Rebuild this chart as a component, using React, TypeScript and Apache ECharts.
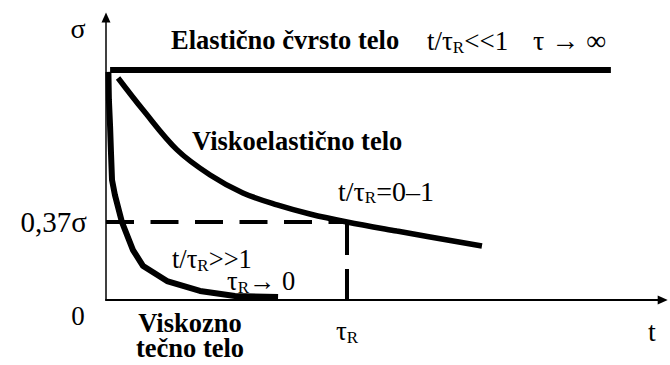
import React, { useEffect, useRef } from "react";
import * as echarts from "echarts";

// Time axis: t / τR ; stress axis: σ / σ0
const xMax = 2.31;
const yMax = 1.34;

// Tick labels
const xTickValues = [1];
const xTickLabels = ["{n|τ}{s|R}"];
const yTickValues = [0.37];
const yTickLabels = ["0,37σ"];

// Elastic solid: constant stress
const elasticT = [0.017, 2.095];
const elasticS = [1.091, 1.091];

// Viscoelastic body: relaxation through 0.37σ at τR
const viscoelasticT = [0.05, 0.154, 0.295, 0.432, 0.568, 0.71, 0.846, 1.0, 1.207, 1.56];
const viscoelasticS = [1.053, 0.901, 0.712, 0.593, 0.508, 0.451, 0.408, 0.37, 0.327, 0.256];

// Viscous fluid: almost instantaneous relaxation
const viscousT = [0.01, 0.012, 0.017, 0.021, 0.025, 0.037, 0.066, 0.112, 0.154, 0.253, 0.39, 0.535, 0.714];
const viscousS = [1.082, 0.95, 0.821, 0.69, 0.569, 0.498, 0.37, 0.237, 0.161, 0.09, 0.043, 0.019, 0.014];

// Guide lines at τR and 0.37σ
const guideH_T = [0, 1];
const guideH_S = [0.37, 0.37];
const guideV_T = [1, 1];
const guideV_S = [0.37, 0];

const SERIF =
  "'Liberation Serif', Tinos, 'Times New Roman', Times, 'Nimbus Roman', FreeSerif, 'DejaVu Serif', serif";

const zip = (a: number[], b: number[]) => a.map((v, i) => [v, b[i]]);

// Normal text with a lowered "R" subscript
const richFor = (size: number, lineHeight = 30) => ({
  n: { fontFamily: SERIF, fontSize: size, color: "#000", lineHeight, verticalAlign: "top" },
  s: { fontFamily: SERIF, fontSize: 17, color: "#000", lineHeight: 20, verticalAlign: "top", padding: [12, 0, 0, 0] },
  sp: { width: 55, lineHeight },
});

export default function App() {
  const ref = useRef<HTMLDivElement>(null);

  useEffect(() => {
    if (!ref.current) return;
    const chart = echarts.init(ref.current, null, { renderer: "svg" });

    const curve = (data: number[][], width: number, extra: any = {}) => ({
      type: "line",
      data,
      showSymbol: false,
      symbol: "none",
      lineStyle: { color: "#000", width, cap: "butt", ...extra },
      silent: true,
      z: 3,
    });

    const text = (t: string, x: number, y: number, opts: any = {}) => ({
      type: "text",
      x,
      y,
      silent: true,
      style: {
        text: t,
        fill: "#000",
        fontFamily: SERIF,
        fontSize: opts.size || 28,
        fontWeight: opts.bold ? "bold" : "normal",
        lineHeight: opts.lineHeight,
        align: opts.align || "left",
        verticalAlign: opts.rich ? "top" : "middle",
        rich: opts.rich,
      },
    });

    chart.setOption({
      animation: false,
      backgroundColor: "#fff",
      textStyle: { fontFamily: SERIF },
      grid: { left: 106, right: 7.3, top: 17.5, bottom: 65, outerBoundsMode: "none" },
      xAxis: {
        type: "value",
        min: 0,
        max: xMax,
        splitLine: { show: false },
        axisTick: { show: false },
        axisLine: {
          show: true,
          onZero: false,
          symbol: ["none", "triangle"],
          symbolSize: [9, 10],
          lineStyle: { color: "#000", width: 2 },
        },
        axisLabel: {
          customValues: xTickValues,
          formatter: (v: number) => xTickLabels[xTickValues.indexOf(v)] ?? "",
          margin: 17,
          fontFamily: SERIF,
          rich: richFor(27),
        },
      },
      yAxis: {
        type: "value",
        min: 0,
        max: yMax,
        splitLine: { show: false },
        axisTick: { show: false },
        axisLine: {
          show: true,
          onZero: false,
          symbol: ["none", "triangle"],
          symbolSize: [9, 10],
          lineStyle: { color: "#000", width: 1.5 },
        },
        axisLabel: {
          customValues: yTickValues,
          formatter: (v: number) => yTickLabels[yTickValues.indexOf(v)] ?? "",
          margin: 19,
          fontFamily: SERIF,
          fontSize: 29,
          color: "#000",
        },
      },
      series: [
        curve(zip(guideH_T, guideH_S), 4, { type: [28, 16.5] }),
        curve(zip(guideV_T, guideV_S), 4, { type: [33, 14] }),
        curve(zip(elasticT, elasticS), 6),
        { ...curve(zip(viscoelasticT, viscoelasticS), 5.5), smooth: 0.35 },
        curve(zip(viscousT, viscousS), 6),
      ],
      graphic: [
        text("σ", 78, 28, { align: "center", size: 28 }),
        text("0", 78, 316, { align: "center", size: 27 }),
        text("t", 652, 331, { align: "center", size: 28 }),
        text("Elastično čvrsto telo", 171, 40, { bold: true, size: 26.5 }),
        text("{n|t/τ}{s|R}{n|<<1}", 427, 27, { rich: richFor(27) }),
        text("τ → ∞", 533, 40, { size: 28 }),
        text("Viskoelastično telo", 192, 141, { bold: true, size: 26.5 }),
        text("{n|t/τ}{s|R}{n|=0–1}", 338, 177, { rich: richFor(28) }),
        text("{n|t/τ}{s|R}{n|>>1}\n{sp|}{n|τ}{s|R}{n|→ 0}", 172, 245, { rich: richFor(26.5, 22) }),
        text("Viskozno\ntečno telo", 190, 335.5, { bold: true, size: 26.5, align: "center", lineHeight: 25 }),
      ],
    });

    return () => chart.dispose();
  }, []);

  return <div ref={ref} style={{ width: 670, height: 365, position: "absolute", left: 0, top: 0 }} />;
}
